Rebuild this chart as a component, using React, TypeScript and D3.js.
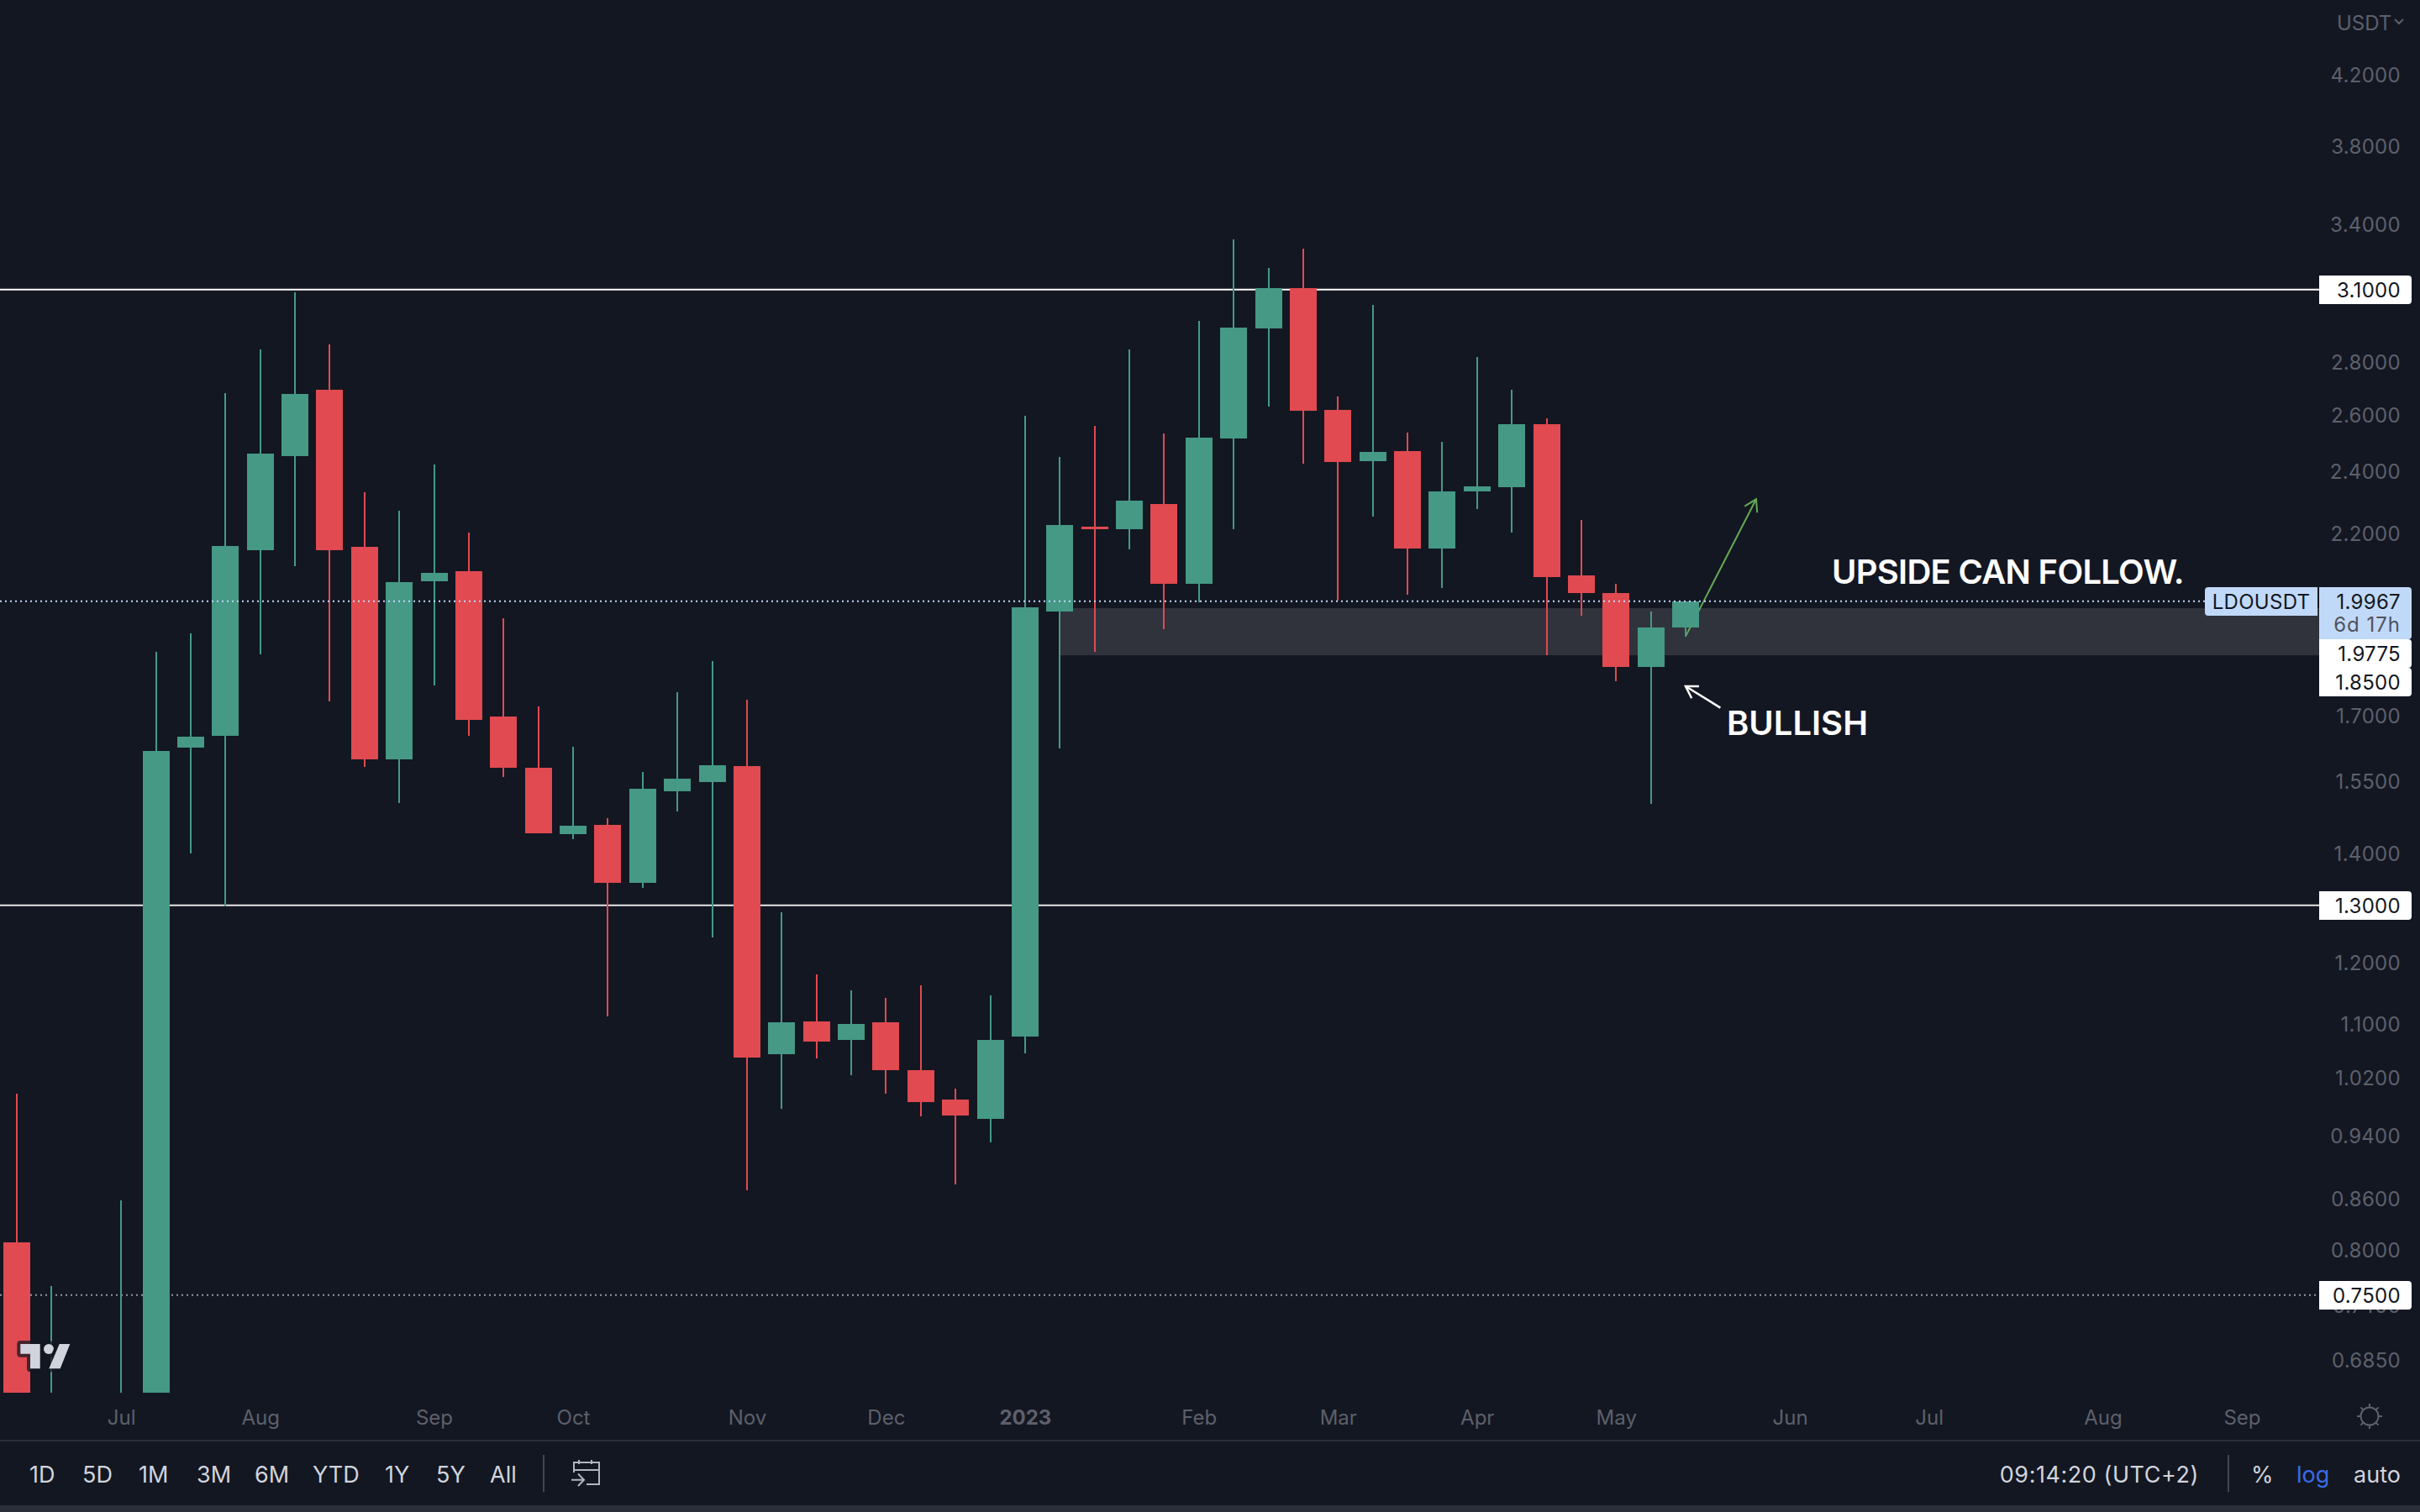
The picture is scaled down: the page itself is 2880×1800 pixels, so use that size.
import * as d3 from "d3";

import React from "react";

// weekly LDOUSDT candles, first one is the week of 13 Jun 2022
const weeks = d3.utcMonday.range(new Date(Date.UTC(2022, 5, 13)), new Date(Date.UTC(2023, 4, 16)));

const candleOpen = [
  0.808, 0.607, 0.593, 0.586, 0.622, 1.624, 1.652, 2.145, 2.451, 2.692, 2.156, 1.598, 2.054, 2.083, 1.697, 1.579, 1.438,
  1.456, 1.342, 1.527, 1.547, 1.583, 1.054, 1.104, 1.075, 1.102, 1.03, 0.988, 0.962, 1.08, 1.968, 2.218, 2.21, 2.291,
  2.047, 2.513, 2.935, 3.106, 2.616, 2.433, 2.468, 2.151, 2.332, 2.345, 2.563, 2.071, 2.02, 1.82, 1.924,
];
const candleHigh = [
  0.996, 0.76, 0.644, 0.857, 1.859, 1.908, 2.678, 2.849, 3.088, 2.869, 2.329, 2.268, 2.422, 2.2, 1.949, 1.721, 1.626,
  1.47, 1.569, 1.756, 1.835, 1.738, 1.287, 1.179, 1.153, 1.141, 1.161, 1.004, 1.145, 2.594, 2.448, 2.557, 2.848, 2.53,
  2.967, 3.327, 3.196, 3.284, 2.666, 3.033, 2.533, 2.5, 2.818, 2.691, 2.585, 2.239, 2.046, 1.968, 1.9967,
];
const candleLow = [
  0.552, 0.579, 0.565, 0.565, 0.607, 1.399, 1.298, 1.853, 2.098, 1.733, 1.58, 1.501, 1.773, 1.652, 1.558, 1.439, 1.427,
  1.111, 1.332, 1.484, 1.242, 0.869, 0.976, 1.047, 1.023, 0.996, 0.965, 0.877, 0.93, 1.055, 1.623, 1.859, 2.148, 1.919,
  1.994, 2.21, 2.628, 2.425, 1.999, 2.25, 2.015, 2.034, 2.274, 2.2, 1.85, 1.956, 1.784, 1.5, 1.9,
];
const candleClose = [
  0.579, 0.637, 0.622, 0.637, 1.616, 1.649, 2.159, 2.46, 2.675, 2.145, 1.598, 2.051, 2.078, 1.689, 1.578, 1.439, 1.455,
  1.342, 1.532, 1.554, 1.584, 1.048, 1.102, 1.072, 1.1, 1.03, 0.985, 0.966, 1.075, 1.979, 2.223, 2.21, 2.301, 2.047,
  2.515, 2.938, 3.106, 2.612, 2.43, 2.465, 2.151, 2.332, 2.348, 2.563, 2.066, 2.02, 1.82, 1.924, 1.9967,
];

const priceTicks = [
  4.2, 3.8, 3.4, 2.8, 2.6, 2.4, 2.2, 1.7, 1.55, 1.4, 1.2, 1.1, 1.02, 0.94, 0.86, 0.8, 0.74, 0.685,
];
const monthLabels: Array<[string, number, number]> = [
  ["Jul", 2022, 6],
  ["Aug", 2022, 7],
  ["Sep", 2022, 8],
  ["Oct", 2022, 9],
  ["Nov", 2022, 10],
  ["Dec", 2022, 11],
  ["2023", 2023, 0],
  ["Feb", 2023, 1],
  ["Mar", 2023, 2],
  ["Apr", 2023, 3],
  ["May", 2023, 4],
  ["Jun", 2023, 5],
  ["Jul", 2023, 6],
  ["Aug", 2023, 7],
  ["Sep", 2023, 8],
];
const rangeButtons = ["1D", "5D", "1M", "3M", "6M", "YTD", "1Y", "5Y", "All"];
const rangeButtonX = [35, 98, 165, 234, 303, 372, 458, 519, 583];

const resistance = 3.1;
const support = 1.3;
const lowLevel = 0.75;
const zoneTop = 1.9775;
const zoneBottom = 1.85;
const lastPrice = 1.9967;

// drawn arrows as [week, price]
const greenArrow: Array<[Date, number]> = [
  [new Date(Date.UTC(2023, 4, 15)), 1.9],
  [new Date(Date.UTC(2023, 4, 29, 5)), 2.306],
];
const whiteArrow: Array<[Date, number]> = [
  [new Date(Date.UTC(2023, 4, 22)), 1.718],
  [new Date(Date.UTC(2023, 4, 15)), 1.771],
];

const BG = "#131722";
const UP = "#459985";
const DOWN = "#E04A50";
const AXIS_TEXT = "#5D606B";
const FONT = "Inter, 'Noto Sans', sans-serif";
const PANE_RIGHT = 2760;
const PANE_BOTTOM = 1658;

export default function App() {
  const svgRef = React.useRef<SVGSVGElement | null>(null);

  React.useEffect(() => {
    const svg = d3.select(svgRef.current);
    svg.selectAll("*").remove();

    const xScale = d3
      .scaleUtc()
      .domain([weeks[0], weeks[48]])
      .range([20, 2006]);
    const yScale = d3.scaleLog().domain([3.1, 0.75]).range([344.7, 1541.7]);
    const cx = (d: Date) => Math.round(xScale(d));

    svg.append("rect").attr("width", 2880).attr("height", 1800).attr("fill", BG);

    svg
      .append("defs")
      .append("clipPath")
      .attr("id", "pane")
      .append("rect")
      .attr("width", PANE_RIGHT)
      .attr("height", PANE_BOTTOM);
    const pane = svg.append("g").attr("clip-path", "url(#pane)");

    // zone behind everything
    pane
      .append("rect")
      .attr("x", cx(weeks[30]))
      .attr("y", yScale(zoneTop))
      .attr("width", PANE_RIGHT - cx(weeks[30]))
      .attr("height", yScale(zoneBottom) - yScale(zoneTop))
      .attr("fill", "#30333C");

    // horizontal levels
    const level = (price: number, color: string, width: number, dash?: string, right = PANE_RIGHT) =>
      pane
        .append("line")
        .attr("x1", 0)
        .attr("x2", right)
        .attr("y1", yScale(price))
        .attr("y2", yScale(price))
        .attr("stroke", color)
        .attr("stroke-width", width)
        .attr("stroke-dasharray", dash ?? null);
    level(resistance, "#FFFFFF", 2);
    level(support, "#E6E6E6", 2);
    level(lowLevel, "#9598A1", 2, "2 4");

    const arrow = (points: Array<[Date, number]>, color: string, width: number) => {
      const pts = points.map(([d, p]) => [xScale(d), yScale(p)] as [number, number]);
      const [tail, tip] = pts;
      const angle = Math.atan2(tail[1] - tip[1], tail[0] - tip[0]);
      const head = [angle - 0.55, angle + 0.55].map(
        (a) => [tip[0] + 16 * Math.cos(a), tip[1] + 16 * Math.sin(a)] as [number, number],
      );
      const line = d3.line();
      const g = pane.append("g").attr("fill", "none").attr("stroke", color).attr("stroke-width", width);
      g.append("path").attr("d", line(pts));
      g.append("path").attr("d", line([head[0], tip, head[1]]));
    };
    arrow(greenArrow, "#66AA55", 2);

    // candles
    const candles = weeks.map((date, i) => ({
      date,
      open: candleOpen[i],
      high: candleHigh[i],
      low: candleLow[i],
      close: candleClose[i],
    }));
    const color = (d: (typeof candles)[number]) => (d.close >= d.open ? UP : DOWN);
    const g = pane.selectAll(".candle").data(candles).join("g").attr("shape-rendering", "crispEdges");
    g.append("rect")
      .attr("x", (d) => cx(d.date) - 1)
      .attr("width", 2)
      .attr("y", (d) => yScale(d.high))
      .attr("height", (d) => yScale(d.low) - yScale(d.high))
      .attr("fill", color);
    g.append("rect")
      .attr("x", (d) => cx(d.date) - 16)
      .attr("width", 32)
      .attr("y", (d) => yScale(Math.max(d.open, d.close)))
      .attr("height", (d) => Math.abs(yScale(d.open) - yScale(d.close)))
      .attr("fill", color);

    level(lastPrice, "#C1D9F9", 2, "2 4", 2624);
    arrow(whiteArrow, "#FFFFFF", 2.5);

    // annotations
    const note = (text: string, x: number, y: number, spacing = 0) =>
      svg
        .append("text")
        .attr("x", x)
        .attr("y", y)
        .attr("fill", "#FFFFFF")
        .attr("font-family", FONT)
        .attr("font-size", 40)
        .attr("font-weight", 600)
        .attr("letter-spacing", spacing)
        .text(text);
    note("UPSIDE CAN FOLLOW.", 2180, 695, -0.72);
    note("BULLISH", 2055, 875);

    // tv logo
    const logo = svg
      .append("g")
      .attr("fill", "#D1D4DC")
      .attr("stroke", "#131722")
      .attr("stroke-opacity", 0.75)
      .attr("stroke-width", 8)
      .attr("stroke-linejoin", "round")
      .attr("paint-order", "stroke");
    logo.append("path").attr("d", "M24.3 1600H47.7V1629.3H36V1611.7H24.3Z");
    logo.append("circle").attr("cx", 58).attr("cy", 1606).attr("r", 6);
    logo.append("path").attr("d", "M70.7 1600H83.3L71.7 1629.3H58.3Z");

    // price axis
    const yAxisGroup = svg
      .append("g")
      .attr("transform", "translate(2857,1.5)")
      .call(
        d3
          .axisLeft(yScale)
          .tickValues(priceTicks)
          .tickSize(0)
          .tickPadding(0)
          .tickFormat((v) => d3.format(".4f")(v as number)),
      );
    yAxisGroup.select(".domain").remove();
    yAxisGroup
      .selectAll("text")
      .attr("fill", AXIS_TEXT)
      .attr("font-family", FONT)
      .attr("font-size", 24)
      .attr("letter-spacing", 0.3);

    // time axis
    const monthDates = monthLabels.map(([, y, m]) => d3.utcMonday.ceil(new Date(Date.UTC(y, m, 1))));
    const xAxisGroup = svg
      .append("g")
      .attr("transform", "translate(0,1679)")
      .call(
        d3
          .axisBottom(xScale)
          .tickValues(monthDates)
          .tickSize(0)
          .tickPadding(0)
          .tickFormat((_, i) => monthLabels[i][0]),
      );
    xAxisGroup.select(".domain").remove();
    xAxisGroup
      .selectAll("text")
      .attr("fill", AXIS_TEXT)
      .attr("font-family", FONT)
      .attr("font-size", 24)
      .attr("font-weight", (_, i) => (monthLabels[i][0] === "2023" ? 700 : 400));

    // price labels
    const label = (
      x: number,
      y: number,
      w: number,
      h: number,
      fill: string,
      corners: "right" | "left",
    ) => {
      const r = 4;
      const path =
        corners === "right"
          ? `M${x} ${y}H${x + w - r}Q${x + w} ${y} ${x + w} ${y + r}V${y + h - r}Q${x + w} ${y + h} ${x + w - r} ${y + h}H${x}Z`
          : `M${x + w} ${y}H${x + r}Q${x} ${y} ${x} ${y + r}V${y + h - r}Q${x} ${y + h} ${x + r} ${y + h}H${x + w}Z`;
      svg.append("path").attr("d", path).attr("fill", fill);
    };
    const labelText = (text: string, x: number, y: number, fill: string, anchor = "end", spacing = 0.3) =>
      svg
        .append("text")
        .attr("x", x)
        .attr("y", y)
        .attr("dy", "0.36em")
        .attr("text-anchor", anchor)
        .attr("fill", fill)
        .attr("font-family", FONT)
        .attr("font-size", 24)
        .attr("letter-spacing", spacing)
        .text(text);

    [resistance, support, lowLevel].forEach((p) => {
      const y = Math.round(yScale(p));
      label(PANE_RIGHT, y - 17, 110, 34, "#FFFFFF", "right");
      labelText(d3.format(".4f")(p), 2857, y, "#131722");
    });
    label(2624, 699, 134, 34, "#C1D9F9", "left");
    labelText("LDOUSDT", 2691, 716, "#131722", "middle");
    label(PANE_RIGHT, 699, 110, 62, "#C1D9F9", "right");
    labelText(d3.format(".4f")(lastPrice), 2857, 716, "#131722");
    labelText("6d 17h", 2857, 743, "#50535E", "end", 1);
    label(PANE_RIGHT, 761, 110, 34, "#FFFFFF", "right");
    labelText(d3.format(".4f")(zoneTop), 2857, 778, "#131722");
    label(PANE_RIGHT, 795, 110, 34, "#FFFFFF", "right");
    labelText(d3.format(".4f")(zoneBottom), 2857, 812, "#131722");

    // currency
    svg
      .append("text")
      .attr("x", 2781)
      .attr("y", 27)
      .attr("dy", "0.36em")
      .attr("fill", AXIS_TEXT)
      .attr("font-family", FONT)
      .attr("font-size", 24)
      .text("USDT");
    svg
      .append("path")
      .attr("d", "M2850 23L2855 28L2860 23")
      .attr("fill", "none")
      .attr("stroke", AXIS_TEXT)
      .attr("stroke-width", 2);

    // settings icon
    const sun = svg
      .append("g")
      .attr("transform", "translate(2820,1686)")
      .attr("fill", "none")
      .attr("stroke", AXIS_TEXT)
      .attr("stroke-width", 2);
    sun.append("circle").attr("r", 10.5);
    d3.range(8).forEach((i) => {
      const a = (i * Math.PI) / 4;
      sun
        .append("line")
        .attr("x1", 10.5 * Math.cos(a))
        .attr("y1", 10.5 * Math.sin(a))
        .attr("x2", 15 * Math.cos(a))
        .attr("y2", 15 * Math.sin(a));
    });

    // bottom toolbar
    svg.append("rect").attr("y", 1714).attr("width", 2880).attr("height", 2).attr("fill", "#2A2E39");
    svg.append("rect").attr("y", 1792).attr("width", 2880).attr("height", 8).attr("fill", "#2A2E39");
    const toolbarText = (text: string, x: number, fill = "#D1D4DC", anchor = "start", spacing = 0) =>
      svg
        .append("text")
        .attr("x", x)
        .attr("y", 1755)
        .attr("dy", "0.36em")
        .attr("text-anchor", anchor)
        .attr("fill", fill)
        .attr("font-family", FONT)
        .attr("font-size", 27)
        .attr("letter-spacing", spacing)
        .text(text);
    rangeButtons.forEach((b, i) => toolbarText(b, rangeButtonX[i]));
    toolbarText("09:14:20 (UTC+2)", 2617, "#D1D4DC", "end", 0.55);
    toolbarText("%", 2679);
    toolbarText("log", 2733, "#3A6BE8");
    toolbarText("auto", 2857, "#D1D4DC", "end");
    [647, 2652].forEach((x) =>
      svg
        .append("line")
        .attr("x1", x)
        .attr("x2", x)
        .attr("y1", 1732)
        .attr("y2", 1776)
        .attr("stroke", "#434651")
        .attr("stroke-width", 2),
    );
    svg
      .append("path")
      .attr(
        "d",
        "M689 1738V1743M704 1738V1743M683 1753V1741H713V1767H698M683 1750H713M680 1761.7H695M688 1754.5L695 1761.7L688 1769",
      )
      .attr("fill", "none")
      .attr("stroke", "#B2B5BE")
      .attr("stroke-width", 2);
  }, []);

  return <svg ref={svgRef} width={2880} height={1800} style={{ position: "absolute", left: 0, top: 0 }} />;
}
